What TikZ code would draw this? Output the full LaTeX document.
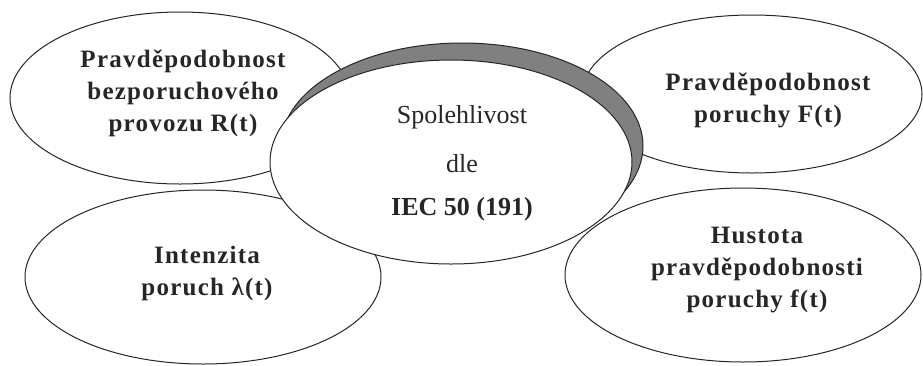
\documentclass[tikz,border=0pt]{standalone}
\usepackage{fontspec}
\setmainfont{Liberation Serif}
\newfontfamily\outerfont{Liberation Serif}[LetterSpace=5]
\usetikzlibrary{shapes.geometric}
\tikzset{
  oval/.style={ellipse, draw=black!85, line width=1pt, fill=white, inner sep=0pt},
  outertext/.style={align=center, inner sep=0pt, text=black!85,
    font=\outerfont\bfseries\fontsize{25}{32}\selectfont},
  centertext/.style={anchor=base, inner sep=0pt, text=black!85,
    font=\fontsize{26}{30}\selectfont},
}
\begin{document}
\begin{tikzpicture}[x=1pt, y=-1pt]
\useasboundingbox (0,0) rectangle (923,365);
% outer ellipses
\node[oval, minimum width=340pt, minimum height=172pt] (tl) at (180,98) {};
\node[oval, minimum width=340pt, minimum height=158pt] (tr) at (752,94) {};
\node[oval, minimum width=356pt, minimum height=174pt] (bl) at (203,277) {};
\node[oval, minimum width=356pt, minimum height=174pt] (br) at (743,275) {};
% shadow and central ellipse
\node[oval, fill=black!50, minimum width=362pt, minimum height=206pt] (sh) at (462,146) {};
\node[oval, minimum width=362pt, minimum height=204pt] (c) at (451,162) {};
% texts
\node[outertext] (tlt) at (183,93) {Pravděpodobnost\\bezporuchového\\provozu R(t)};
\node[outertext] (trt) at (768,100) {Pravděpodobnost\\poruchy F(t)};
\node[outertext] (blt) at (207,273) {Intenzita\\poruch λ(t)};
\node[outertext] (brt) at (757,270) {Hustota\\pravděpodobnosti\\poruchy f(t)};
\node[centertext] (c1) at (462,123) {Spolehlivost};
\node[centertext] (c2) at (462,172) {dle};
\node[centertext, font=\bfseries\fontsize{26}{30}\selectfont] (c3) at (462,215) {IEC 50 (191)};
\end{tikzpicture}
\end{document}
